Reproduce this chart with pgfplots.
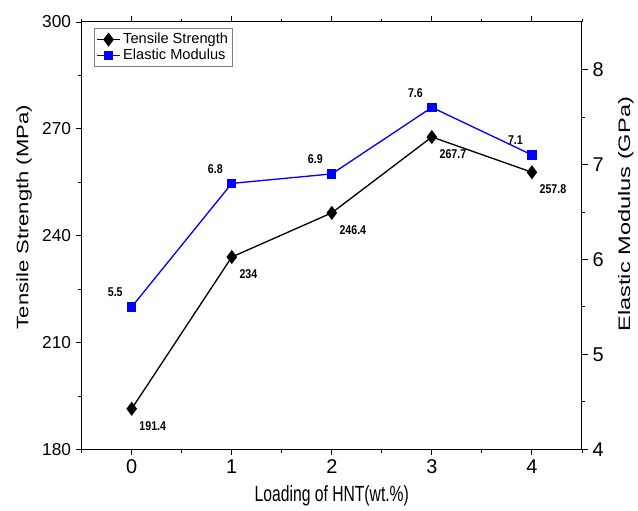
\documentclass[border=0pt]{standalone}
\usepackage{pgfplots}
\pgfplotsset{compat=1.18}
\usepackage{graphicx}
\usepackage{fontspec}
\setmainfont{Liberation Sans}
\definecolor{myblue}{RGB}{0,0,255}
\begin{document}
\begin{tikzpicture}
\pgfplotsset{
  common/.style={
    scale only axis, width=376.5pt, height=321.75pt,
    xmin=-0.5, xmax=4.5,
    xtick={0,1,2,3,4}, minor xtick={-0.5,0.5,1.5,2.5,3.5,4.5},
    /pgf/number format/assume math mode=true,
    tick label style={font=\fontsize{13}{15}\selectfont},
    xticklabel style={font=\fontsize{15}{17}\selectfont},
    label style={font=\fontsize{12.5}{14}\selectfont},
    major tick length=4.5pt, minor tick length=2.5pt,
    tick style={black, line width=0.6pt},
    axis line style={line width=0.8pt},
  }
}
\begin{axis}[common,
  axis y line*=left, axis x line*=box,
  ymin=180, ymax=300, ytick={180,210,240,270,300}, minor ytick={195,225,255,285},
  xtick pos=both, ytick pos=left,
  xtick align=outside, ytick align=outside,
  xlabel={\scalebox{1}[1.4]{\fontsize{11.8}{13}\selectfont Loading of HNT(wt.\%)}},
  ylabel={\scalebox{1.325}[1]{Tensile Strength (MPa)}},
  xlabel style={yshift=-2pt},
  ylabel style={at={(ticklabel cs:0.543)}, yshift=1pt},
  legend style={at={(0.025,0.985)}, anchor=north west, font=\fontsize{11}{12}\selectfont, draw=gray, line width=0.5pt, inner sep=1.5pt, row sep=-1.5pt},
  legend cell align=left,
  nodes near coords, point meta=explicit symbolic,
  every node near coord/.append style={anchor=north west, xshift=2pt, yshift=-5pt, font=\bfseries\fontsize{8}{9}\selectfont, black, yscale=1.2},
  nodes near coords align={},
]
\addplot[black, line width=1pt, mark=diamond*, mark size=4.5pt, mark options={fill=black}]
  table[meta=lab] {
x y lab
0 191.4 191.4
1 234 234
2 246.4 246.4
3 267.7 267.7
4 257.8 257.8
};
\addlegendentry{Tensile Strength}
\addlegendimage{myblue, line width=1pt, mark=square*, mark size=3pt, mark options={fill=myblue}}
\addlegendentry{Elastic Modulus}
\end{axis}
\begin{axis}[common,
  axis y line*=right, axis x line=none,
  ymin=4, ymax=8.5, ytick={4,5,6,7,8}, minor ytick={4.5,5.5,6.5,7.5},
  ytick align=outside,
  yticklabel style={font=\fontsize{15}{17}\selectfont},
  ylabel={\scalebox{1.42}[1]{Elastic Modulus (GPa)}},
  ylabel style={at={(ticklabel cs:0.55)}, yshift=-4pt},
  nodes near coords, point meta=explicit symbolic,
  every node near coord/.append style={anchor=south east, xshift=-3pt, yshift=3pt, font=\bfseries\fontsize{8}{9}\selectfont, black, yscale=1.2},
  nodes near coords align={},
]
\addplot[myblue, line width=1pt, mark=square*, mark size=3pt, mark options={fill=myblue}]
  table[meta=lab] {
x y lab
0 5.5 5.5
1 6.8 6.8
2 6.9 6.9
3 7.6 7.6
4 7.1 7.1
};
\end{axis}
\path[use as bounding box] (current axis.south west) ++(-61.5pt,-45pt) rectangle ([xshift=40.5pt,yshift=16.5pt]current axis.north east);
\end{tikzpicture}
\end{document}
